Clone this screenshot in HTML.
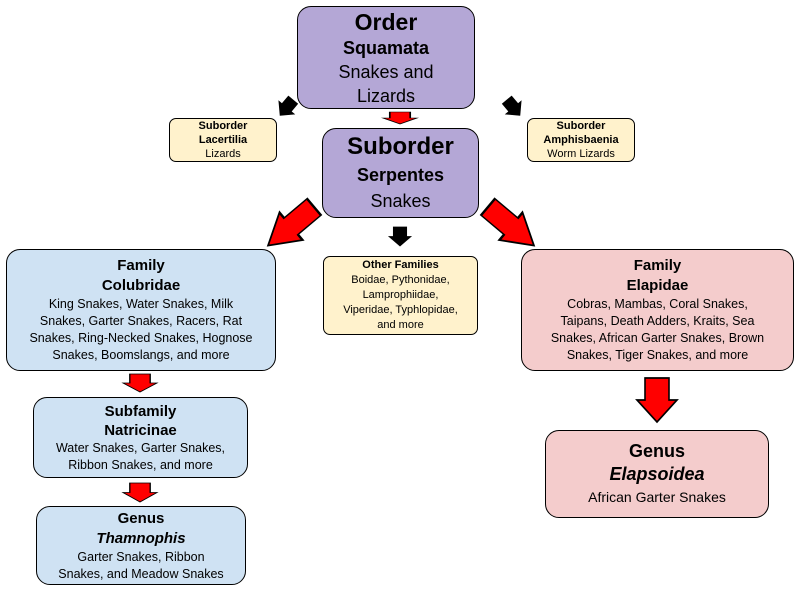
<!DOCTYPE html>
<html><head><meta charset="utf-8"><style>
body{margin:0;width:800px;height:599px;background:#fff;position:relative;overflow:hidden;font-family:"Liberation Sans",Arial,sans-serif;color:#000}
.b{position:absolute;box-sizing:border-box;border:1.3px solid #000;border-radius:14px;text-align:center;display:flex;flex-direction:column;justify-content:center;align-items:center}
.p{background:#b4a7d6}.y{background:#fff2cc;border-radius:7px}.bl{background:#cfe2f3}.pk{background:#f4cccc}
</style></head><body>
<div class="b p" style="left:297px;top:6px;width:178px;height:103px;line-height:24px"><div style="font-size:23px;font-weight:bold;line-height:28px">Order</div><div style="font-size:18px;font-weight:bold">Squamata</div><div style="font-size:18px">Snakes and<br>Lizards</div></div>
<div class="b y" style="left:169px;top:118px;width:108px;height:44px;line-height:14px"><div style="font-size:11px;font-weight:bold">Suborder<br>Lacertilia</div><div style="font-size:11px">Lizards</div></div>
<div class="b p" style="left:322px;top:128px;width:157px;height:90px;line-height:26px"><div style="font-size:24px;font-weight:bold;line-height:30px">Suborder</div><div style="font-size:18px;font-weight:bold">Serpentes</div><div style="font-size:18px">Snakes</div></div>
<div class="b y" style="left:527px;top:118px;width:108px;height:44px;line-height:14px"><div style="font-size:11px;font-weight:bold">Suborder<br>Amphisbaenia</div><div style="font-size:11px">Worm Lizards</div></div>
<div class="b bl" style="left:6px;top:249px;width:270px;height:122px"><div style="font-size:15px;font-weight:bold;line-height:20px">Family<br>Colubridae</div><div style="font-size:12.5px;line-height:17px">King Snakes, Water Snakes, Milk<br>Snakes, Garter Snakes, Racers, Rat<br>Snakes, Ring-Necked Snakes, Hognose<br>Snakes, Boomslangs, and more</div></div>
<div class="b y" style="left:323px;top:256px;width:155px;height:79px;line-height:15px"><div style="font-size:11px;font-weight:bold">Other Families</div><div style="font-size:11px">Boidae, Pythonidae,<br>Lamprophiidae,<br>Viperidae, Typhlopidae,<br>and more</div></div>
<div class="b pk" style="left:521px;top:249px;width:273px;height:122px"><div style="font-size:15px;font-weight:bold;line-height:20px">Family<br>Elapidae</div><div style="font-size:12.5px;line-height:17px">Cobras, Mambas, Coral Snakes,<br>Taipans, Death Adders, Kraits, Sea<br>Snakes, African Garter Snakes, Brown<br>Snakes, Tiger Snakes, and more</div></div>
<div class="b bl" style="left:33px;top:397px;width:215px;height:81px"><div style="font-size:15px;font-weight:bold;line-height:19px">Subfamily<br>Natricinae</div><div style="font-size:12.5px;line-height:17px">Water Snakes, Garter Snakes,<br>Ribbon Snakes, and more</div></div>
<div class="b bl" style="left:36px;top:506px;width:210px;height:79px"><div style="font-size:15px;font-weight:bold;line-height:20px">Genus<br><i>Thamnophis</i></div><div style="font-size:12.5px;line-height:17px">Garter Snakes, Ribbon<br>Snakes, and Meadow Snakes</div></div>
<div class="b pk" style="left:545px;top:430px;width:224px;height:88px"><div style="font-size:18px;font-weight:bold;line-height:23px">Genus<br><i>Elapsoidea</i></div><div style="font-size:14px;line-height:22px">African Garter Snakes</div></div>
<svg width="800" height="599" style="position:absolute;left:0;top:0" stroke-linejoin="miter">
<defs>
<polygon id="a" points="-0.3,0 0.3,0 0.3,0.5 0.5,0.5 0,1 -0.5,0.5 -0.3,0.5"/>
</defs>
<g stroke="#000" stroke-width="0.04">
<use href="#a" fill="#f00" transform="translate(400,112) scale(34,12)" stroke-width="0.05"/>
<use href="#a" fill="#000" transform="translate(400,227) scale(22,19)"/>
<use href="#a" fill="#000" transform="translate(293,100) rotate(40) scale(20,20)"/>
<use href="#a" fill="#000" transform="translate(507,100) rotate(-40) scale(20,20)"/>
<use href="#a" fill="#f00" transform="translate(314,207) rotate(50) scale(36,60)"/>
<use href="#a" fill="#f00" transform="translate(488,207) rotate(-50) scale(36,60)"/>
<use href="#a" fill="#f00" transform="translate(140,374) scale(34,18)"/>
<use href="#a" fill="#f00" transform="translate(140,483) scale(34,19)"/>
<use href="#a" fill="#f00" transform="translate(657,378) scale(40,44)"/>
</g>
</svg>
</body></html>
